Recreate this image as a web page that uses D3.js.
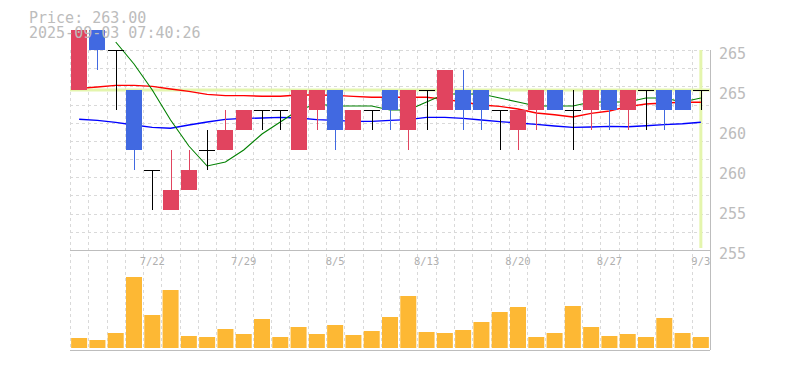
<!DOCTYPE html>
<meta charset="utf-8">
<head>
  <title>Candle chart</title>
  <style>
    body { margin: 0; background: #fff; }
    text { font-family: "DejaVu Sans Mono", monospace; }
  </style>
</head>
<body>
<script src="https://d3js.org/d3.v7.min.js"></script>
<script>

const dates = [
  "7/15", "7/16", "7/17", "7/18", "7/22", "7/23", "7/24", "7/25", "7/28", "7/29",
  "7/30", "7/31", "8/1", "8/4", "8/5", "8/6", "8/7", "8/8", "8/12", "8/13",
  "8/14", "8/15", "8/18", "8/19", "8/20", "8/21", "8/22", "8/25", "8/26", "8/27",
  "8/28", "8/29", "9/1", "9/2", "9/3"];

const opens  = [263, 266, 265, 263, 259, 257, 258, 260, 260, 261, 262, 262, 260, 262, 263, 261, 262, 263,
                261, 263, 262, 263, 263, 262, 261, 262, 263, 262, 262, 263, 262, 263, 263, 263, 263];
const highs  = [266, 266, 265, 263, 259, 260, 260, 261, 262, 262, 262, 262, 263, 263, 263, 262, 262, 263,
                263, 263, 264, 264, 263, 262, 262, 263, 263, 263, 263, 263, 263, 263, 263, 263, 263];
const lows   = [263, 264, 262, 259, 257, 257, 258, 259, 260, 261, 261, 261, 260, 261, 260, 261, 261, 261,
                260, 261, 262, 261, 261, 260, 260, 261, 262, 260, 261, 261, 261, 261, 261, 262, 262];
const closes = [266, 265, 265, 260, 259, 258, 259, 260, 261, 262, 262, 262, 263, 263, 261, 262, 262, 262,
                263, 263, 264, 262, 262, 262, 262, 263, 262, 262, 263, 262, 263, 263, 262, 262, 263];

// volume, thousand shares
const volumes = [10, 8, 15, 71, 33, 58, 12, 11, 19, 14, 29, 11, 21, 14, 23, 13, 17, 31,
                 52, 16, 15, 18, 26, 36, 41, 11, 15, 42, 21, 12, 14, 11, 30, 15, 11];

// moving averages
const maShort = [null, null, 265.4, 264.3, 263.0, 261.5, 260.2, 259.2, 259.4, 260.0, 260.8, 261.4,
                 262.0, 262.3, 262.2, 262.2, 262.2, 262.0, 262.0, 262.4, 262.8, 262.8, 262.8, 262.6,
                 262.4, 262.2, 262.2, 262.2, 262.4, 262.4, 262.4, 262.6, 262.6, 262.4, 262.6];
const maMid   = [263.08, 263.15, 263.23, 263.23, 263.18, 263.05, 262.93, 262.78, 262.72, 262.72,
                 262.69, 262.69, 262.75, 262.75, 262.73, 262.68, 262.64, 262.64, 262.64, 262.64,
                 262.53, 262.40, 262.25, 262.18, 262.05, 261.85, 261.76, 261.65, 261.83, 261.95,
                 262.17, 262.30, 262.35, 262.39, 262.39];
const maLong  = [261.54, 261.48, 261.38, 261.25, 261.13, 261.09, 261.25, 261.40, 261.53, 261.58,
                 261.60, 261.63, 261.60, 261.52, 261.48, 261.43, 261.43, 261.48, 261.52, 261.63,
                 261.63, 261.58, 261.50, 261.42, 261.35, 261.28, 261.20, 261.13, 261.15, 261.18,
                 261.16, 261.21, 261.27, 261.31, 261.39];

const priceTicks = [265, 263, 261, 259, 257, 255];
const priceTickLabels = ["265", "265", "260", "260", "255", "255"];
const dateTicks = ["7/22", "7/29", "8/5", "8/13", "8/20", "8/27", "9/3"];

const titleLines = ["Price: 263.00", "2025-09-03 07:40:26"];

const totalWidth = 785, totalHeight = 370;
const plot = {left: 70, right: 710, top: 50, priceBottom: 250, volTop: 250, volBottom: 350};

const RED = "#e1445f", BLUE = "#4169e1", GRID = "#d9d9d9", BORDER = "#bdbdbd",
      LABEL = "#bcbcbc", NOW = "#e4f5ad", VOL = "#fdb834";

const svg = d3.select("body")
  .append("svg")
  .attr("width", totalWidth)
  .attr("height", totalHeight);

const x = d3.scaleBand()
  .domain(dates)
  .range([plot.left, plot.right])
  .paddingInner(0.125)
  .paddingOuter(0.0625);
const cx = d => x(d) + x.bandwidth() / 2;

const y = d3.scaleLinear()
  .domain([255, 265])
  .range([plot.priceBottom, plot.top]);

const yVol = d3.scaleLinear()
  .domain([0, 100])
  .range([348, 248]);

// grid
const grid = svg.append("g")
  .attr("stroke", GRID)
  .attr("stroke-dasharray", "3,3")
  .attr("shape-rendering", "crispEdges");

const gy = d3.scaleLinear().domain([0, 11]).range([plot.priceBottom, plot.top]);
grid.selectAll(".h")
  .data(d3.range(1, 12))
  .join("line")
  .attr("x1", plot.left).attr("x2", plot.right)
  .attr("y1", k => Math.round(gy(k)) + 0.5).attr("y2", k => Math.round(gy(k)) + 0.5);

grid.selectAll(".v")
  .data(d3.range(0, dates.length))
  .join("line")
  .attr("x1", k => Math.round(plot.left + k * x.step()) + 0.5)
  .attr("x2", k => Math.round(plot.left + k * x.step()) + 0.5)
  .attr("y1", plot.top).attr("y2", plot.volBottom);

// borders
const border = svg.append("g").attr("stroke", BORDER).attr("shape-rendering", "crispEdges");
border.append("line").attr("x1", plot.left).attr("x2", plot.right)
  .attr("y1", plot.priceBottom + 0.5).attr("y2", plot.priceBottom + 0.5);
border.append("line").attr("x1", plot.left).attr("x2", plot.right)
  .attr("y1", plot.volBottom + 0.5).attr("y2", plot.volBottom + 0.5);
border.append("line").attr("x1", plot.right + 0.5).attr("x2", plot.right + 0.5)
  .attr("y1", plot.top).attr("y2", plot.volBottom);

// current price / current day markers
const last = dates.length - 1;
svg.append("line")
  .attr("x1", plot.left).attr("x2", plot.right)
  .attr("y1", y(closes[last])).attr("y2", y(closes[last]))
  .attr("stroke", NOW).attr("stroke-width", 3);
svg.append("line")
  .attr("x1", cx(dates[last])).attr("x2", cx(dates[last]))
  .attr("y1", plot.top).attr("y2", plot.priceBottom - 2)
  .attr("stroke", NOW).attr("stroke-width", 3);

// moving averages
function drawLine(values, color, width) {
  const line = d3.line()
    .defined(v => v !== null)
    .x((v, i) => cx(dates[i]))
    .y(v => y(v));
  svg.append("path")
    .attr("d", line(values))
    .attr("fill", "none")
    .attr("stroke", color)
    .attr("stroke-width", width);
}
drawLine(maLong, "#0000ff", 1.4);
drawLine(maMid, "#ff0000", 1.4);
drawLine(maShort, "#008000", 1.1);

// candles
const candles = dates.map((d, i) => ({
  date: d, open: opens[i], high: highs[i], low: lows[i], close: closes[i]
}));
const colorOf = c => c.close > c.open ? RED : c.close < c.open ? BLUE : "#000";

const cg = svg.append("g").attr("shape-rendering", "crispEdges");

cg.selectAll(".wick")
  .data(candles)
  .join("line")
  .attr("x1", c => Math.round(cx(c.date)) + 0.5)
  .attr("x2", c => Math.round(cx(c.date)) + 0.5)
  .attr("y1", c => y(c.high))
  .attr("y2", c => y(c.low))
  .attr("stroke", colorOf)
  .attr("stroke-width", 1);

cg.selectAll(".body")
  .data(candles.filter(c => c.open !== c.close))
  .join("rect")
  .attr("x", c => x(c.date))
  .attr("width", x.bandwidth())
  .attr("y", c => y(Math.max(c.open, c.close)))
  .attr("height", c => Math.abs(y(c.open) - y(c.close)))
  .attr("fill", colorOf);

cg.selectAll(".doji")
  .data(candles.filter(c => c.open === c.close))
  .join("line")
  .attr("x1", c => x(c.date))
  .attr("x2", c => x(c.date) + x.bandwidth())
  .attr("y1", c => Math.round(y(c.close)) + 0.5)
  .attr("y2", c => Math.round(y(c.close)) + 0.5)
  .attr("stroke", "#000")
  .attr("stroke-width", 1.5);

// volume
svg.append("g")
  .selectAll("rect")
  .data(volumes)
  .join("rect")
  .attr("x", (v, i) => x(dates[i]))
  .attr("width", x.bandwidth())
  .attr("y", v => yVol(v))
  .attr("height", v => yVol(0) - yVol(v))
  .attr("fill", VOL);

// price axis
const yAxis = svg.append("g")
  .attr("transform", "translate(" + plot.right + ",0)")
  .call(d3.axisRight(y)
    .tickValues(priceTicks)
    .tickFormat((v, i) => priceTickLabels[i])
    .tickSize(0)
    .tickPadding(9));
yAxis.select(".domain").remove();
yAxis.selectAll("text")
  .attr("dy", "0.55em")
  .attr("fill", LABEL)
  .style("font-size", "15px");

// date axis
const xAxis = svg.append("g")
  .attr("transform", "translate(0," + plot.volTop + ")")
  .call(d3.axisBottom(x)
    .tickValues(dateTicks)
    .tickSize(0)
    .tickPadding(8));
xAxis.select(".domain").remove();
xAxis.selectAll("text")
  .attr("fill", "#b0b0b0")
  .style("font-size", "10.5px");

// header
svg.append("g")
  .selectAll("text")
  .data(titleLines)
  .join("text")
  .attr("x", 29)
  .attr("y", (t, i) => 23 + i * 15)
  .attr("fill", LABEL)
  .style("font-size", "15px")
  .text(t => t);

</script>
</body>
